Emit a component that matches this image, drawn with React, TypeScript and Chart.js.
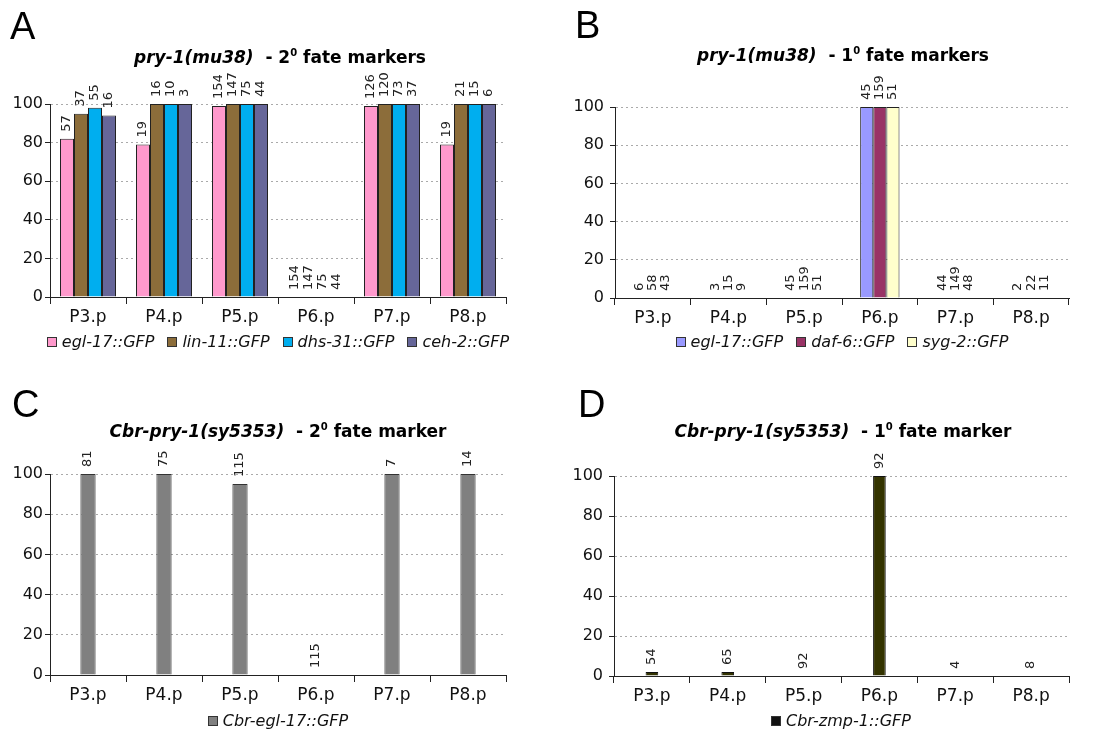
import React, { useEffect, useRef } from "react";
import { Chart, registerables } from "chart.js";
Chart.register(...registerables);

// ---------- shared ----------
const cells = ["P3.p", "P4.p", "P5.p", "P6.p", "P7.p", "P8.p"];
const yMin = 0;
const yMax = 100;
const yStep = 20;

// ---------- Panel A: pry-1(mu38) - 2° fate markers ----------
const aLabels = ["egl-17::GFP", "lin-11::GFP", "dhs-31::GFP", "ceh-2::GFP"];
const aEgl17 = [82, 79, 99, 0, 99, 79];
const aLin11 = [95, 100, 100, 0, 100, 100];
const aDhs31 = [98, 100, 100, 0, 100, 100];
const aCeh2 = [94, 100, 100, 0, 100, 100];
const aEgl17N = [57, 19, 154, 154, 126, 19];
const aLin11N = [37, 16, 147, 147, 120, 21];
const aDhs31N = [55, 10, 75, 75, 73, 15];
const aCeh2N = [16, 3, 44, 44, 37, 6];

// ---------- Panel B: pry-1(mu38) - 1° fate markers ----------
const bLabels = ["egl-17::GFP", "daf-6::GFP", "syg-2::GFP"];
const bEgl17 = [0, 0, 0, 100, 0, 0];
const bDaf6 = [0, 0, 0, 100, 0, 0];
const bSyg2 = [0, 0, 0, 100, 0, 0];
const bEgl17N = [6, 3, 45, 45, 44, 2];
const bDaf6N = [58, 15, 159, 159, 149, 22];
const bSyg2N = [43, 9, 51, 51, 48, 11];

// ---------- Panel C: Cbr-pry-1(sy5353) - 2° fate marker ----------
const cLabels = ["Cbr-egl-17::GFP"];
const cEgl17 = [100, 100, 95, 0, 100, 100];
const cEgl17N = [81, 75, 115, 115, 7, 14];

// ---------- Panel D: Cbr-pry-1(sy5353) - 1° fate marker ----------
const dLabels = ["Cbr-zmp-1::GFP"];
const dZmp1 = [2, 2, 0, 100, 0, 0];
const dZmp1N = [54, 65, 92, 92, 4, 8];

const FONT = '"DejaVu Sans", Verdana, sans-serif';

type Series = { label: string; data: number[]; counts: number[]; color: string; border: string; swatch: string };
type Panel = {
  left: number; top: number; width: number; height: number;
  yAxisW: number; rightW: number; padTop: number; padBottom: number; xAxisH: number; yLabelPad: number;
  catPct: number;
  letter: string; letterX: number; letterY: number;
  titleItalic: string; titleMid: string; titleSup: string; titleEnd: string;
  titleX: number; titleY: number;
  legendX: number; legendY: number;
  series: Series[];
};

const panels: Panel[] = [
  {
    left: 0, top: 0, width: 556, height: 360,
    yAxisW: 50, rightW: 50, padTop: 104, padBottom: 23, xAxisH: 40, yLabelPad: 2, catPct: 0.737,
    letter: "A", letterX: 10, letterY: 39,
    titleItalic: "pry-1(mu38)", titleMid: "  - 2", titleSup: "0", titleEnd: " fate markers",
    titleX: 280, titleY: 63,
    legendX: 278, legendY: 342,
    series: [
      { label: aLabels[0], data: aEgl17, counts: aEgl17N, color: "#FF99CC", border: "#222", swatch: "#FF99CC" },
      { label: aLabels[1], data: aLin11, counts: aLin11N, color: "#8C6D3A", border: "#222", swatch: "#8C6D3A" },
      { label: aLabels[2], data: aDhs31, counts: aDhs31N, color: "#00AEEF", border: "#222", swatch: "#00AEEF" },
      { label: aLabels[3], data: aCeh2, counts: aCeh2N, color: "#666699", border: "#222", swatch: "#666699" },
    ],
  },
  {
    left: 570, top: 0, width: 544, height: 360,
    yAxisW: 45, rightW: 45, padTop: 107, padBottom: 22, xAxisH: 40, yLabelPad: 6, catPct: 0.52,
    letter: "B", letterX: 5, letterY: 38,
    titleItalic: "pry-1(mu38)", titleMid: "  - 1", titleSup: "0", titleEnd: " fate markers",
    titleX: 273, titleY: 61,
    legendX: 272, legendY: 342,
    series: [
      { label: bLabels[0], data: bEgl17, counts: bEgl17N, color: "#9999FF", border: "#222", swatch: "#9999FF" },
      { label: bLabels[1], data: bDaf6, counts: bDaf6N, color: "#993366", border: "#222", swatch: "#993366" },
      { label: bLabels[2], data: bSyg2, counts: bSyg2N, color: "#FFFFCC", border: "#222", swatch: "#FFFFCC" },
    ],
  },
  {
    left: 0, top: 360, width: 556, height: 373,
    yAxisW: 50, rightW: 50, padTop: 114, padBottom: 18, xAxisH: 40, yLabelPad: 2, catPct: 0.2,
    letter: "C", letterX: 12, letterY: 57,
    titleItalic: "Cbr-pry-1(sy5353)", titleMid: "  - 2", titleSup: "0", titleEnd: " fate marker",
    titleX: 278, titleY: 77,
    legendX: 278, legendY: 361,
    series: [
      { label: cLabels[0], data: cEgl17, counts: cEgl17N, color: "#808080", border: "#333", swatch: "#808080" },
    ],
  },
  {
    left: 569, top: 360, width: 545, height: 373,
    yAxisW: 45, rightW: 45, padTop: 116, padBottom: 17, xAxisH: 40, yLabelPad: 6, catPct: 0.167,
    letter: "D", letterX: 9, letterY: 57,
    titleItalic: "Cbr-pry-1(sy5353)", titleMid: "  - 1", titleSup: "0", titleEnd: " fate marker",
    titleX: 274, titleY: 77,
    legendX: 272, legendY: 361,
    series: [
      { label: dLabels[0], data: dZmp1, counts: dZmp1N, color: "#333300", border: "#111", swatch: "#111111" },
    ],
  },
];

function makePlugin(p: Panel) {
  return {
    id: "annot" + p.letter,
    afterDatasetsDraw(chart: any) {
      const ctx = chart.ctx;
      chart.data.datasets.forEach((_ds: any, i: number) => {
        const meta = chart.getDatasetMeta(i);
        const counts = p.series[i].counts;
        meta.data.forEach((el: any, j: number) => {
          ctx.save();
          ctx.translate(el.x, el.y - 7);
          ctx.rotate(-Math.PI / 2);
          ctx.font = "13px " + FONT;
          ctx.fillStyle = "#222";
          ctx.textAlign = "left";
          ctx.textBaseline = "middle";
          ctx.fillText(String(counts[j]), 0, 0);
          ctx.restore();
        });
      });
    },
    afterDraw(chart: any) {
      const ctx = chart.ctx;
      ctx.save();
      ctx.fillStyle = "#000";
      ctx.textBaseline = "alphabetic";
      ctx.textAlign = "left";
      ctx.font = '38px "Liberation Sans", Arial, sans-serif';
      ctx.fillText(p.letter, p.letterX, p.letterY);
      // title with mixed styles
      const parts = [
        { t: p.titleItalic, f: "italic bold 17px " + FONT, dy: 0 },
        { t: p.titleMid, f: "bold 17px " + FONT, dy: 0 },
        { t: p.titleSup, f: "bold 10px " + FONT, dy: 7 },
        { t: p.titleEnd, f: "bold 17px " + FONT, dy: 0 },
      ];
      const widths = parts.map((q) => { ctx.font = q.f; return ctx.measureText(q.t).width; });
      const total = widths.reduce((a, b) => a + b, 0);
      let x = p.titleX - total / 2;
      parts.forEach((q, k) => {
        ctx.font = q.f;
        ctx.fillText(q.t, x, p.titleY - q.dy);
        x += widths[k];
      });
      // legend (one row, centred under the plot)
      ctx.font = "italic 16px " + FONT;
      const box = 10, gap = 5, spacing = 13;
      const itemW = p.series.map((s) => box + gap + ctx.measureText(s.label).width);
      const legW = itemW.reduce((a, b) => a + b, 0) + spacing * (itemW.length - 1);
      let lx = p.legendX - legW / 2;
      const ly = p.legendY;
      ctx.textBaseline = "middle";
      p.series.forEach((s, k) => {
        ctx.fillStyle = s.swatch;
        ctx.fillRect(Math.round(lx), Math.round(ly - box / 2), box, box);
        ctx.strokeStyle = "#333";
        ctx.lineWidth = 1;
        ctx.strokeRect(Math.round(lx) + 0.5, Math.round(ly - box / 2) + 0.5, box - 1, box - 1);
        ctx.fillStyle = "#111";
        ctx.fillText(s.label, lx + box + gap, ly + 1);
        lx += itemW[k] + spacing;
      });
      ctx.restore();
    },
  };
}

function PanelChart({ p }: { p: Panel }) {
  const ref = useRef<HTMLCanvasElement | null>(null);
  useEffect(() => {
    if (!ref.current) return;
    const chart = new Chart(ref.current, {
      type: "bar",
      data: {
        labels: cells,
        datasets: p.series.map((s) => ({
          label: s.label,
          data: s.data,
          backgroundColor: s.color,
          borderColor: s.border,
          borderWidth: 1,
          barPercentage: 1,
          categoryPercentage: p.catPct,
          yAxisID: "y",
          xAxisID: "x",
        })),
      },
      options: {
        responsive: false,
        animation: false,
        devicePixelRatio: 1,
        layout: { padding: { top: p.padTop, left: 0, right: 0, bottom: p.padBottom } },
        plugins: {
          tooltip: { enabled: false },
          title: { display: false },
          legend: { display: false },
        },
        scales: {
          x: {
            type: "category",
            offset: true,
            grid: { display: true, drawOnChartArea: false, drawTicks: true, tickLength: 7, tickColor: "#222", offset: true },
            border: { display: true, color: "#222", width: 1 },
            ticks: { color: "#111", padding: 3, font: { family: FONT, size: 17 } },
            afterFit: (s: any) => { s.height = p.xAxisH; },
          },
          y: {
            type: "linear",
            position: "left",
            min: yMin,
            max: yMax,
            grid: { color: "#aaa", lineWidth: 1, drawTicks: true, tickLength: 5, tickColor: "#222", tickBorderDash: [] },
            border: { display: true, color: "#222", width: 1, dash: [2, 3] },
            ticks: { stepSize: yStep, color: "#111", padding: p.yLabelPad, font: { family: FONT, size: 16 } },
            afterFit: (s: any) => { s.width = p.yAxisW; },
          },
          yR: {
            type: "linear",
            position: "right",
            display: true,
            grid: { display: false },
            border: { display: false },
            ticks: { display: false },
            afterFit: (s: any) => { s.width = p.rightW; },
          },
        },
      } as any,
      plugins: [makePlugin(p)],
    });
    return () => chart.destroy();
  }, [p]);
  return (
    <canvas
      ref={ref}
      width={p.width}
      height={p.height}
      style={{ position: "absolute", left: p.left, top: p.top, width: p.width, height: p.height }}
    />
  );
}

export default function App() {
  return (
    <div style={{ position: "absolute", left: 0, top: 0, width: 1103, height: 733, overflow: "hidden", background: "#fff" }}>
      {panels.map((p) => (
        <PanelChart key={p.letter} p={p} />
      ))}
    </div>
  );
}
